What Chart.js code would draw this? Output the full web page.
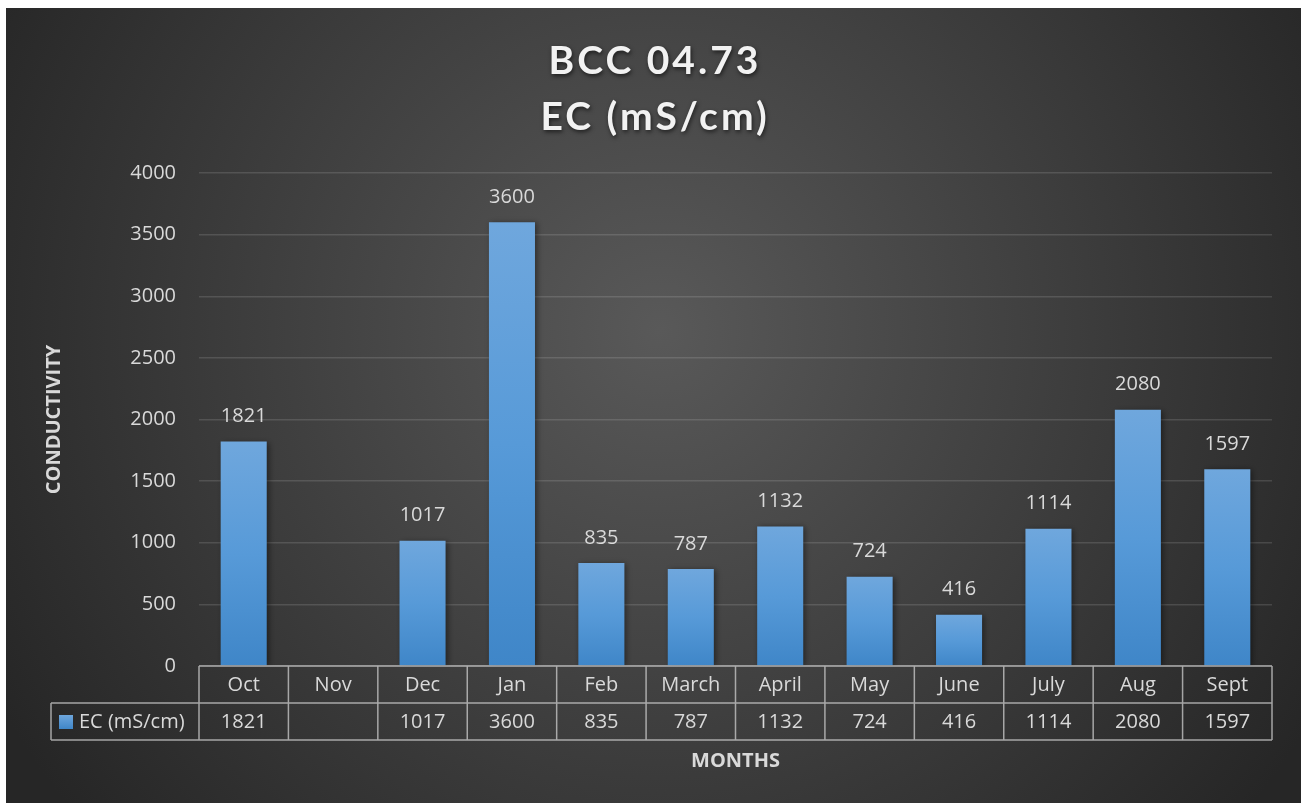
<!DOCTYPE html>
<html>
<head>
<meta charset="utf-8">
<script src="https://cdn.jsdelivr.net/npm/chart.js@4.4.0/dist/chart.umd.min.js"></script>
<style>
  html, body { margin: 0; padding: 0; background: #ffffff; }
  #wrap { width: 1303px; height: 803px; }
</style>
</head>
<body>
<div id="wrap"><canvas id="chart" width="1303" height="803"></canvas></div>
<script>
// chart values
const months = ["Oct", "Nov", "Dec", "Jan", "Feb", "March", "April", "May", "June", "July", "Aug", "Sept"];
const ecValues = [1821, null, 1017, 3600, 835, 787, 1132, 724, 416, 1114, 2080, 1597];
const seriesName = "EC (mS/cm)";
const titleLines = ["BCC 04.73", "EC (mS/cm)"];
const yTicks = [0, 500, 1000, 1500, 2000, 2500, 3000, 3500, 4000];

const FONT = "'Open Sans', sans-serif";
const TITLE_FONT = "Lato, 'Open Sans', sans-serif";
const TEXT = "#d9d9d9";

// dark panel with radial light in the middle
const backdrop = {
  id: "backdrop",
  beforeDraw(chart) {
    const ctx = chart.ctx;
    ctx.save();
    ctx.fillStyle = "#ffffff";
    ctx.fillRect(0, 0, chart.width, chart.height);
    const g = ctx.createRadialGradient(660, 330, 0, 660, 330, 760);
    g.addColorStop(0, "#595959");
    g.addColorStop(1, "#262626");
    ctx.fillStyle = g;
    ctx.fillRect(6, 8, 1295, 795);
    ctx.restore();
  }
};

// titles, bar labels and the data table under the plot
const extras = {
  id: "extras",
  beforeDatasetsDraw(chart) {
    chart.ctx.save();
    chart.ctx.shadowColor = "rgba(0,0,0,0.45)";
    chart.ctx.shadowBlur = 6;
    chart.ctx.shadowOffsetX = 2;
    chart.ctx.shadowOffsetY = 1;
  },
  afterDatasetsDraw(chart) {
    const ctx = chart.ctx;
    ctx.restore();
    const area = chart.chartArea;
    const xs = chart.scales.x;
    const meta = chart.getDatasetMeta(0);

    ctx.save();
    // title
    ctx.fillStyle = "#f2f2f2";
    ctx.textAlign = "center";
    ctx.textBaseline = "alphabetic";
    ctx.shadowColor = "rgba(0,0,0,0.6)";
    ctx.shadowBlur = 4;
    ctx.shadowOffsetX = 1;
    ctx.shadowOffsetY = 2;
    ctx.font = "bold 39px " + TITLE_FONT;
    ctx.letterSpacing = "3px";
    ctx.fillText(titleLines[0], 655, 74);
    ctx.fillText(titleLines[1], 655, 130);
    ctx.letterSpacing = "0px";
    ctx.shadowColor = "transparent";

    // value labels above the bars
    ctx.font = "20px " + FONT;
    ctx.fillStyle = TEXT;
    ctx.textBaseline = "middle";
    meta.data.forEach((bar, i) => {
      if (ecValues[i] == null) return;
      ctx.fillText(String(ecValues[i]), bar.x, bar.y - 25);
    });

    // table
    const colW = (area.right - area.left) / months.length;
    const rowH = 37;
    const top = area.bottom;
    const legLeft = 51;
    ctx.strokeStyle = "rgba(205,205,205,0.75)";
    ctx.lineWidth = 1.5;
    ctx.beginPath();
    ctx.moveTo(area.left, top); ctx.lineTo(area.right, top);
    ctx.moveTo(legLeft, top + rowH); ctx.lineTo(area.right, top + rowH);
    ctx.moveTo(legLeft, top + 2 * rowH); ctx.lineTo(area.right, top + 2 * rowH);
    ctx.moveTo(legLeft, top + rowH); ctx.lineTo(legLeft, top + 2 * rowH);
    for (let i = 0; i <= months.length; i++) {
      const x = area.left + i * colW;
      ctx.moveTo(x, top); ctx.lineTo(x, top + 2 * rowH);
    }
    ctx.stroke();

    ctx.fillStyle = TEXT;
    ctx.font = "20px " + FONT;
    months.forEach((m, i) => {
      const cx = xs.getPixelForValue(i);
      ctx.fillText(m, cx, top + rowH / 2 + 1);
      if (ecValues[i] != null) ctx.fillText(String(ecValues[i]), cx, top + rowH * 1.5 + 1);
    });

    // legend key in the table
    const sq = ctx.createLinearGradient(0, top + rowH + 12, 0, top + rowH + 26);
    sq.addColorStop(0, "#6ea6dc");
    sq.addColorStop(1, "#3f86c8");
    ctx.fillStyle = sq;
    ctx.fillRect(59, top + rowH + 12, 14, 14);
    ctx.fillStyle = TEXT;
    ctx.textAlign = "left";
    ctx.fillText(seriesName, 79, top + rowH * 1.5 + 1);

    // x axis title
    ctx.textAlign = "center";
    ctx.font = "bold 20px " + FONT;
    ctx.fillText("MONTHS", (area.left + area.right) / 2, 761);
    ctx.restore();
  }
};

function barFill(context) {
  const chart = context.chart;
  const v = context.raw;
  if (v == null || !chart.chartArea) return "#4a8fd0";
  const ys = chart.scales.y;
  const y0 = ys.getPixelForValue(v);
  const y1 = ys.getPixelForValue(0);
  const g = chart.ctx.createLinearGradient(0, y0, 0, y1);
  g.addColorStop(0, "#6fa7dd");
  g.addColorStop(0.5, "#579ad8");
  g.addColorStop(1, "#3f86c8");
  return g;
}

new Chart(document.getElementById("chart"), {
  type: "bar",
  data: {
    labels: months,
    datasets: [{
      label: seriesName,
      data: ecValues,
      backgroundColor: barFill,
      borderWidth: 0,
      barPercentage: 0.515,
      categoryPercentage: 1.0
    }]
  },
  options: {
    responsive: false,
    animation: false,
    layout: { padding: { top: 173, bottom: 137, left: 0, right: 31 } },
    plugins: {
      legend: { display: false },
      title: { display: false },
      tooltip: { enabled: false }
    },
    scales: {
      x: {
        display: false,
        grid: { display: false }
      },
      y: {
        min: 0,
        max: 4000,
        afterBuildTicks(scale) {
          scale.ticks = yTicks.map(v => ({ value: v }));
        },
        afterFit(scale) {
          scale.width = 199;
          scale.paddingTop = 0;
          scale.paddingBottom = 0;
        },
        border: { display: false },
        grid: { color: "rgba(255,255,255,0.13)", lineWidth: 1.5, drawTicks: false },
        ticks: {
          color: TEXT,
          padding: 23,
          font: { family: FONT, size: 20 },
          callback: v => String(v)
        },
        title: {
          display: true,
          text: "CONDUCTIVITY",
          color: TEXT,
          font: { family: FONT, size: 20, weight: "bold" },
          padding: { top: 42 }
        }
      }
    }
  },
  plugins: [backdrop, extras]
});
</script>
</body>
</html>
